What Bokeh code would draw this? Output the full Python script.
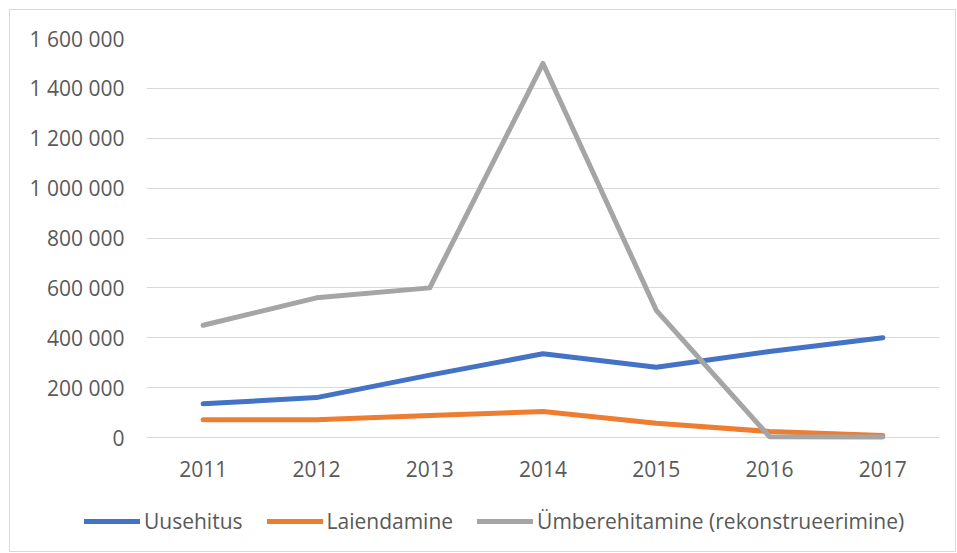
from bokeh.plotting import figure
from bokeh.layouts import column
from bokeh.models import (FactorRange, Range1d, FixedTicker, CustomJSTickFormatter,
                          Legend, LegendItem)
from bokeh.embed import file_html
from bokeh.resources import INLINE

years = ["2011", "2012", "2013", "2014", "2015", "2016", "2017"]
uusehitus = [135000, 160000, 250000, 336000, 282000, 345000, 400000]
laiendamine = [71000, 71000, 88000, 104000, 57000, 24000, 8000]
umberehitamine = [450000, 560000, 600000, 1500000, 510000, 3000, 2000]
series_names = ["Uusehitus", "Laiendamine", "Ümberehitamine (rekonstrueerimine)"]
colors = ["#4472C4", "#ED7D31", "#A5A5A5"]
y_ticks = [0, 200000, 400000, 600000, 800000, 1000000, 1200000, 1400000, 1600000]

FONT = "Open Sans"

p = figure(width=945, height=490, output_backend="svg", toolbar_location=None,
           x_range=FactorRange(*years, range_padding=0),
           y_range=Range1d(-20000, 1600000),
           min_border_left=136, min_border_right=16, min_border_top=28,
           min_border_bottom=58)
p.outline_line_color = None
p.background_fill_color = "white"

p.yaxis.ticker = FixedTicker(ticks=y_ticks)
p.yaxis.formatter = CustomJSTickFormatter(
    code='return Math.round(tick).toString().replace(/\\B(?=(\\d{3})+(?!\\d))/g, " ");')
for ax in (p.xaxis[0], p.yaxis[0]):
    ax.axis_line_color = None
    ax.major_tick_line_color = None
    ax.minor_tick_line_color = None
    ax.major_tick_out = 0
    ax.major_tick_in = 0
    ax.major_label_text_font = FONT
    ax.major_label_text_font_size = "21px"
    ax.major_label_text_color = "#595959"
p.yaxis.major_label_standoff = 22
p.xaxis.major_label_standoff = 18

p.xgrid.grid_line_color = None
p.ygrid.ticker = FixedTicker(ticks=y_ticks)
p.ygrid.grid_line_color = "#d9d9d9"
p.ygrid.grid_line_width = 1

for vals, col in zip([uusehitus, laiendamine, umberehitamine], colors):
    p.line(years, vals, line_color=col, line_width=5,
           line_cap="round", line_join="round")

# legend strip below the plot
lp = figure(width=945, height=51, output_backend="svg", toolbar_location=None,
            x_range=Range1d(0, 1), y_range=Range1d(0, 1),
            x_axis_type=None, y_axis_type=None,
            min_border_left=0, min_border_right=0, min_border_top=0, min_border_bottom=0)
lp.outline_line_color = None
lp.xgrid.grid_line_color = None
lp.ygrid.grid_line_color = None
p.frame_align = False
lp.frame_align = False
nan = float("nan")
leg_renderers = [lp.line(x=[nan], y=[nan], line_color=c, line_width=5, line_cap="round")
                 for c in colors]
legend = Legend(items=[LegendItem(label=n, renderers=[r]) for n, r in zip(series_names, leg_renderers)],
                orientation="horizontal", location=(74, 16),
                label_text_font=FONT, label_text_font_size="21px",
                label_text_color="#595959", glyph_width=56, glyph_height=20,
                label_standoff=4, spacing=24, padding=0, margin=0,
                border_line_color=None, background_fill_alpha=0)
lp.add_layout(legend, "center")

layout = column(p, lp, spacing=0)
layout.margin = (9, 0, 0, 9)
layout.styles = {"border": "1px solid #d9d9d9"}

open("out.html", "w").write(file_html(layout, INLINE))
